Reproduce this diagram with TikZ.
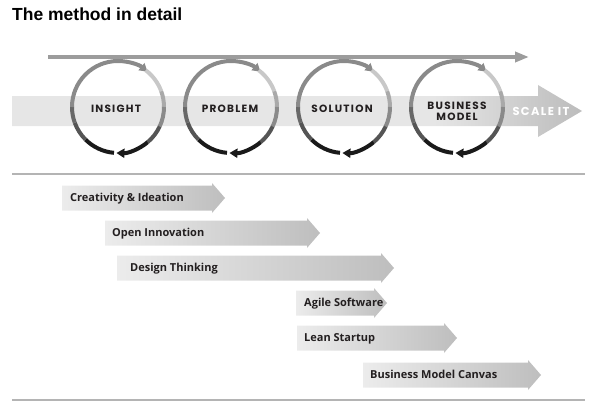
\documentclass[tikz,border=0pt]{standalone}
\usepackage{fontspec}
\setmainfont{Open Sans}
\newfontfamily\titlefont{Liberation Sans}
\newfontfamily\capfont{Poppins}[LetterSpace=12]
\usetikzlibrary{arrows.meta,positioning}

\definecolor{bandlight}{HTML}{E6E6E6}
\definecolor{banddark}{HTML}{BCBCBC}
\definecolor{linegray}{HTML}{9C9C9C}
\definecolor{ringdark}{HTML}{1A1A1A}
\definecolor{ringmid}{HTML}{555555}
\definecolor{ringgray}{HTML}{8A8A8A}
\definecolor{ringlight}{HTML}{C8C8C8}
\definecolor{listlight}{HTML}{ECECEC}
\definecolor{listdark}{HTML}{BEBEBE}
\definecolor{rulegray}{HTML}{B4B4B4}
\definecolor{inkdark}{HTML}{231F20}

\pgfdeclarehorizontalshading{bandshade}{100bp}{color(0bp)=(bandlight); color(62bp)=(bandlight); color(75bp)=(banddark); color(100bp)=(banddark)}

\begin{document}
\begin{tikzpicture}[x=1pt, y=1pt,
    capt/.style={font=\capfont\bfseries\fontsize{10.5}{11.5}\selectfont, text=inkdark, align=center, inner sep=0pt},
    tool/.style={font=\bfseries\fontsize{11}{13}\selectfont, text=inkdark, anchor=base west, inner sep=0pt},
    ring/.style={line width=4pt},
    rule/.style={draw=rulegray, line width=1.2pt},
    tip/.style={-{Triangle[width=9pt,length=8pt]}}
]
    \useasboundingbox (0,0) rectangle (600,408);

    % Titel
    \node[anchor=base west, inner sep=0pt, font=\titlefont\bfseries\fontsize{17.5}{20}\selectfont] (title) at (12,387) {The method in detail};

    % Band
    \shade[shading=bandshade] (12,312) -- (538,312) -- (538,323) -- (582,297) -- (538,271) -- (538,282) -- (12,282) -- cycle;

    % Linie oben
    \coordinate (linestart) at (48,351);
    \coordinate (lineend) at (529,351);
    \draw[line width=4pt, draw=linegray, -{Triangle[width=10pt,length=14pt]}] (linestart) -- (lineend);

    % Kreise
    \foreach \n/\x in {1/118, 2/231, 3/344, 4/457} {
        \coordinate (ring\n) at (\x,301);
        \foreach \s/\e/\col in {265/225/ringdark, 225/200/ringmid, 200/180/ringgray!70!ringdark}
            \draw[ring, draw=\col] (ring\n) ++(\s:46) arc[start angle=\s, end angle=\e, radius=46];
        \draw[ring, draw=ringgray, tip] (ring\n) ++(180:46) arc[start angle=180, end angle=50, radius=46];
        \foreach \s/\e/\col in {53/20/ringlight, 20/0/ringlight!50!ringgray, 0/-25/ringgray, -25/-50/ringmid}
            \draw[ring, draw=\col] (ring\n) ++(\s:46) arc[start angle=\s, end angle=\e, radius=46];
        \draw[ring, draw=ringdark, tip] (ring\n) ++(-50:46) arc[start angle=-50, end angle=-92, radius=46];
    }

    % Beschriftung
    \node[capt] (insight) at (116,299) {INSIGHT};
    \node[capt] (problem) at (230,299) {PROBLEM};
    \node[capt] (solution) at (342,299) {SOLUTION};
    \node[capt] (bizmodel) at (457,296.5) {BUSINESS\\MODEL};
    \node[capt, text=white, font=\capfont\bfseries\fontsize{11.5}{12}\selectfont] (scale) at (541,297) {SCALE IT};

    % Trennlinien
    \coordinate (topl) at (12,234);
    \coordinate (topr) at (585,234);
    \coordinate (botl) at (12,8);
    \coordinate (botr) at (585,8);
    \draw[rule] (topl) -- (topr);
    \draw[rule] (botl) -- (botr);

    % Methoden
    \foreach \name/\xa/\xb/\y/\xt/\txt in {crea/62/225/210/70/{Creativity \& Ideation}, openinno/105/320/175/112/{Open Innovation}, design/117/394/140/130/{Design Thinking}, agile/296/387/105/304/{Agile Software}, lean/297/457/70/304/{Lean Startup}, bmc/363/541/33/370/{Business Model Canvas}} {
        \shade[left color=listlight, right color=listdark] (\xa,\y+12.5) -- (\xb-13,\y+12.5) -- (\xb-13,\y+15) -- (\xb,\y) -- (\xb-13,\y-15) -- (\xb-13,\y-12.5) -- (\xa,\y-12.5) -- cycle;
        \node[tool] (\name) at (\xt,\y-3.9) {\txt};
    }
\end{tikzpicture}
\end{document}
